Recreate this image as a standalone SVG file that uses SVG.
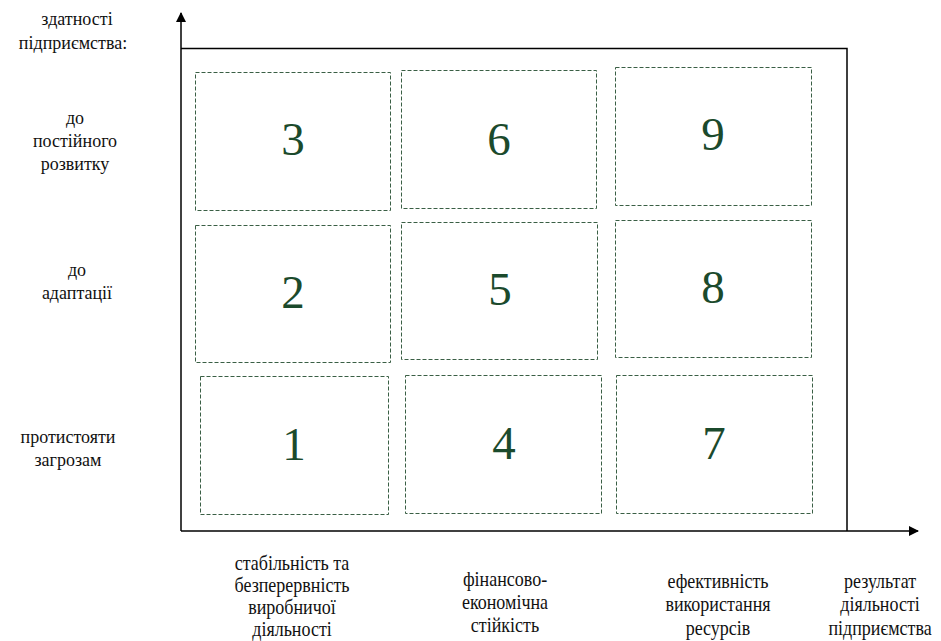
<svg xmlns="http://www.w3.org/2000/svg" width="941" height="641" viewBox="0 0 941 641">
<defs>
<style>
text{font-family:"Liberation Serif","Times New Roman","DejaVu Serif",serif}
.lbl{font-size:18px;fill:#111;text-anchor:middle}
.blbl{font-size:20px;fill:#111;text-anchor:middle}
.box{fill:none;stroke:#3a5f45;stroke-width:1;stroke-dasharray:4 2}
.num{font-size:47px;fill:#1b4a2c;text-anchor:middle}
.ax{stroke:#000;stroke-width:1.5;fill:none}
</style>
<marker id="arr" viewBox="0 0 10 10" refX="9" refY="5" markerWidth="10" markerHeight="10" markerUnits="userSpaceOnUse" orient="auto">
<path d="M0,0 L10,5 L0,10 Z" fill="#000"/>
</marker>
</defs>
<rect width="941" height="641" fill="#fff"/>
<g id="connectors">
<line class="ax" x1="181" y1="531" x2="181" y2="13" marker-end="url(#arr)"/>
<line class="ax" x1="181" y1="531" x2="918" y2="531" marker-end="url(#arr)"/>
<polyline class="ax" points="181,48.5 847,48.5 847,531"/>
</g>
<g id="ylabels">
<text class="lbl" x="77" y="25">здатності</text>
<text class="lbl" x="73" y="49">підприємства:</text>
<text class="lbl" x="75" y="124">до</text>
<text class="lbl" x="75" y="147">постійного</text>
<text class="lbl" x="75" y="170">розвитку</text>
<text class="lbl" x="77" y="276">до</text>
<text class="lbl" x="77" y="299">адаптації</text>
<text class="lbl" x="68" y="443">протистояти</text>
<text class="lbl" x="68" y="466">загрозам</text>
</g>
<g id="xlabels">
<g transform="translate(292,0) scale(0.9,1)">
<text class="blbl" x="0" y="570">стабільність та</text>
<text class="blbl" x="0" y="592">безперервність</text>
<text class="blbl" x="0" y="614">виробничої</text>
<text class="blbl" x="0" y="636">діяльності</text>
</g>
<g transform="translate(505,0) scale(0.9,1)">
<text class="blbl" x="0" y="586">фінансово-</text>
<text class="blbl" x="0" y="609">економічна</text>
<text class="blbl" x="0" y="632">стійкість</text>
</g>
<g transform="translate(718,0) scale(0.9,1)">
<text class="blbl" x="0" y="588">ефективність</text>
<text class="blbl" x="0" y="611">використання</text>
<text class="blbl" x="0" y="635">ресурсів</text>
</g>
<g transform="translate(880,0) scale(0.9,1)">
<text class="blbl" x="0" y="588">результат</text>
<text class="blbl" x="0" y="611">діяльності</text>
<text class="blbl" x="0" y="635">підприємства</text>
</g>
</g>
<g id="node3"><rect class="box" x="195.5" y="72.5" width="195" height="138"/><text class="num" x="293" y="155">3</text></g>
<g id="node6"><rect class="box" x="401.5" y="70.5" width="195" height="138"/><text class="num" x="499" y="155">6</text></g>
<g id="node9"><rect class="box" x="615.5" y="67.5" width="196" height="138"/><text class="num" x="713" y="150">9</text></g>
<g id="node2"><rect class="box" x="195.5" y="225.5" width="195" height="137"/><text class="num" x="293" y="308">2</text></g>
<g id="node5"><rect class="box" x="401.5" y="222.5" width="196" height="137"/><text class="num" x="500" y="305">5</text></g>
<g id="node8"><rect class="box" x="615.5" y="220.5" width="196" height="137"/><text class="num" x="713" y="303">8</text></g>
<g id="node1"><rect class="box" x="200.5" y="376.5" width="188" height="138"/><text class="num" x="294" y="460">1</text></g>
<g id="node4"><rect class="box" x="405.5" y="375.5" width="196" height="138"/><text class="num" x="504" y="459">4</text></g>
<g id="node7"><rect class="box" x="616.5" y="375.5" width="196" height="138"/><text class="num" x="714" y="459">7</text></g>
</svg>
